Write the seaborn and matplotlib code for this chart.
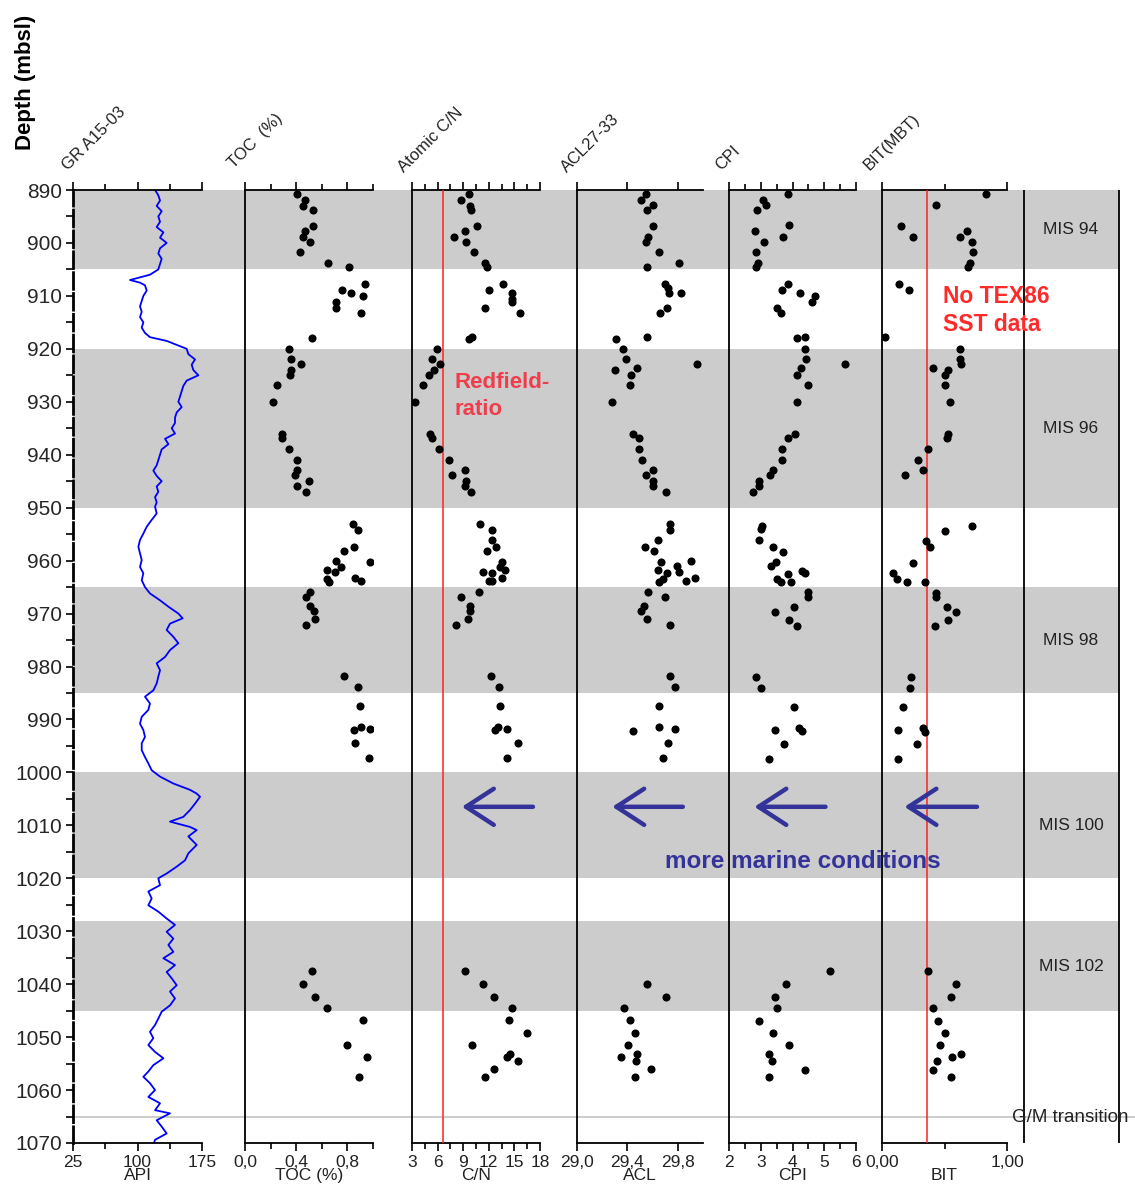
import numpy as np
import pandas as pd
import matplotlib
matplotlib.use("Agg")
import matplotlib.pyplot as plt
import seaborn as sns
from matplotlib.ticker import FixedLocator

# ---------------- DATA ----------------
GLACIAL_BANDS = [(890, 905), (920, 950), (965, 985), (1000, 1020), (1028, 1045)]
MIS_LABELS = ["MIS 94", "MIS 96", "MIS 98", "MIS 100", "MIS 102"]
MIS_DEPTHS = [897.4, 935.0, 975.0, 1010.0, 1036.6]
GM_DEPTH = 1065
REDFIELD_CN = 6.6
BIT_THRESHOLD = 0.36

GR_DEPTH = [890, 891, 892, 893, 894, 895, 896, 897, 898, 899, 900, 901, 902, 903, 904, 905,
            906, 906.5, 907, 907.5, 908, 909, 910, 911, 912, 913, 914, 915, 916, 917, 917.8,
            918.5, 919, 919.5, 920, 921, 922, 923, 924, 925, 926, 927, 928, 929, 930, 931,
            932, 933, 934, 935, 936, 937, 938, 939, 940, 941, 942, 943, 944, 945, 946, 947,
            948, 949, 949.8, 951.1, 952.3, 953.6, 954.9, 956.1, 957.4, 958.6, 959.9, 961.2,
            962.4, 963.7, 965.0, 966.2, 967.5, 968.7, 970.0, 970.9, 971.9, 973.1, 974.4,
            975.6, 976.9, 978.2, 979.4, 980.7, 981.9, 983.2, 984.5, 985.7, 987.0, 988.2,
            989.5, 990.8, 992.0, 993.3, 994.5, 995.8, 997.1, 998.3, 999.6, 1000.8, 1002.1,
            1003.3, 1004.0, 1004.6, 1005.9, 1007.1, 1008.4, 1009.3, 1010.3, 1010.9, 1012.1,
            1013.7, 1015.3, 1016.6, 1017.8, 1019.1, 1020.0, 1021.3, 1022.5, 1023.8, 1025.1,
            1026.3, 1027.6, 1028.8, 1030.1, 1031.4, 1032.6, 1033.9, 1035.1, 1036.4, 1037.7,
            1038.9, 1040.2, 1041.4, 1042.7, 1044.0, 1045.2, 1046.5, 1047.7, 1049.0, 1050.2,
            1051.5, 1052.8, 1054.0, 1055.3, 1056.5, 1057.5, 1058.7, 1060.0, 1061.3, 1062.5,
            1063.8, 1064.4, 1065.7, 1066.9, 1068.2, 1069.4, 1070.4]
GR_API = [120.4, 124.2, 126.2, 122.3, 128.1, 124.2, 126.2, 122.3, 130.1, 126.2, 133.9, 126.2,
          124.2, 128.1, 126.2, 124.2, 114.5, 102.9, 91.3, 102.9, 108.7, 110.7, 106.8, 104.9,
          102.9, 104.9, 102.9, 106.8, 104.9, 108.7, 114.5, 133.9, 141.7, 149.4, 157.2, 159.1,
          166.9, 163.0, 164.9, 170.8, 157.2, 153.3, 151.4, 149.4, 147.5, 151.4, 145.6, 143.6,
          143.6, 139.8, 143.6, 132.0, 135.9, 128.1, 126.2, 124.2, 122.3, 118.4, 122.3, 128.1,
          122.3, 124.2, 120.4, 122.3, 120.4, 122.3, 116.5, 110.7, 106.8, 102.9, 101.0, 102.9,
          104.9, 102.9, 106.8, 104.9, 108.7, 114.5, 126.2, 135.9, 147.5, 152.5, 137.8, 133.9,
          141.7, 147.5, 137.8, 132.0, 122.3, 126.2, 124.2, 122.3, 118.4, 108.7, 114.5, 112.6,
          104.9, 102.9, 106.8, 108.7, 104.9, 104.9, 108.7, 112.6, 116.5, 126.2, 141.7, 161.1,
          168.8, 172.7, 166.9, 161.1, 153.3, 137.8, 161.1, 168.8, 159.1, 168.8, 159.1, 155.3,
          145.6, 133.9, 124.2, 126.2, 112.6, 116.5, 112.6, 124.2, 133.9, 143.6, 133.9, 141.7,
          135.9, 141.7, 130.1, 143.6, 133.9, 139.8, 145.6, 137.8, 143.6, 137.8, 128.1, 124.2,
          120.4, 114.5, 118.4, 112.6, 120.4, 130.1, 118.4, 112.6, 106.8, 114.5, 120.4, 112.6,
          126.2, 120.4, 137.8, 122.3, 128.1, 133.9, 120.4, 118.4]

TOC_DEPTH = [890.8, 891.8, 893.0, 893.8, 896.8, 897.7, 898.8, 899.8, 901.7, 903.7, 904.6,
             907.8, 908.8, 909.5, 910.0, 911.1, 912.2, 913.3, 918.0, 920.0, 921.9, 922.9,
             924.0, 925.0, 926.8, 930.0, 936.0, 936.9, 938.9, 941.0, 942.8, 943.9, 944.9,
             945.9, 947.0, 953.1, 954.2, 957.4, 958.2, 960.2, 960.0, 961.2, 961.8, 962.2,
             963.5, 964.0, 963.2, 963.9, 965.9, 966.8, 968.6, 969.5, 971.1, 972.2, 981.8,
             983.9, 987.5, 992.0, 991.4, 991.8, 994.5, 997.2, 1037.6, 1039.9, 1042.4,
             1044.5, 1046.8, 1051.5, 1053.7, 1057.5]
TOC_PCT = [0.41, 0.47, 0.45, 0.53, 0.53, 0.47, 0.45, 0.51, 0.43, 0.65, 0.81, 0.94, 0.76,
           0.83, 0.92, 0.71, 0.71, 0.91, 0.52, 0.34, 0.36, 0.44, 0.36, 0.35, 0.25, 0.22,
           0.29, 0.29, 0.34, 0.41, 0.41, 0.39, 0.50, 0.41, 0.48, 0.84, 0.88, 0.85, 0.77,
           0.98, 0.71, 0.75, 0.64, 0.70, 0.64, 0.66, 0.86, 0.91, 0.51, 0.48, 0.51, 0.54,
           0.55, 0.48, 0.77, 0.88, 0.90, 0.85, 0.91, 0.98, 0.86, 0.97, 0.52, 0.45, 0.55,
           0.64, 0.92, 0.80, 0.95, 0.89]

CN_DEPTH = [890.8, 891.8, 893.0, 893.8, 896.8, 897.7, 898.8, 899.8, 901.7, 903.7, 904.6,
            908.8, 907.8, 909.5, 910.5, 911.2, 912.2, 913.3, 917.8, 918.2, 920.0, 921.9,
            922.9, 924.0, 925.0, 926.8, 930.0, 936.0, 936.8, 938.9, 941.0, 942.8, 943.9,
            944.9, 945.9, 947.0, 953.1, 954.2, 956.1, 957.4, 958.2, 960.2, 961.2, 961.8,
            962.1, 962.4, 963.2, 963.8, 963.9, 965.9, 966.8, 968.6, 969.5, 971.1, 972.2,
            981.8, 983.9, 987.5, 991.8, 991.4, 992.0, 994.5, 997.2, 1037.6, 1039.9, 1042.4,
            1044.5, 1046.8, 1049.3, 1051.5, 1053.1, 1053.7, 1054.6, 1056.1, 1057.5]
CN_RATIO = [9.68, 8.74, 9.76, 9.91, 10.58, 9.21, 7.89, 9.29, 10.27, 11.55, 11.75, 12.06,
            13.70, 14.68, 14.76, 14.76, 11.55, 15.66, 10.03, 9.72, 5.89, 5.38, 6.24, 5.54,
            5.03, 4.29, 3.35, 5.15, 5.31, 6.13, 7.37, 9.25, 7.69, 9.33, 9.25, 9.91, 10.97,
            12.41, 12.41, 12.84, 11.75, 13.55, 13.31, 13.93, 11.32, 12.41, 13.51, 12.02,
            12.41, 10.89, 8.74, 9.80, 9.80, 9.53, 8.16, 12.22, 13.16, 13.35, 14.10, 13.04,
            12.73, 15.39, 14.10, 9.21, 11.36, 12.65, 14.68, 14.33, 16.48, 10.07, 14.52,
            14.13, 15.42, 12.65, 11.55]

ACL_DEPTH = [890.8, 891.8, 892.9, 893.8, 896.8, 898.8, 899.8, 901.7, 903.7, 904.6, 907.8,
             908.6, 909.5, 909.5, 912.2, 913.3, 917.8, 918.1, 920.0, 921.9, 922.9, 924.0,
             923.6, 925.0, 926.8, 930.0, 936.0, 936.9, 938.9, 941.0, 942.8, 943.9, 944.9,
             945.9, 947.0, 953.1, 954.2, 956.1, 957.4, 958.2, 960.2, 960.1, 961.0, 962.2,
             961.8, 962.3, 963.2, 963.9, 963.5, 964.0, 965.9, 966.8, 968.6, 969.5, 971.1,
             972.2, 981.8, 983.9, 987.5, 992.1, 991.4, 991.8, 994.5, 997.2, 1039.9, 1042.4,
             1044.5, 1046.8, 1049.3, 1051.5, 1053.1, 1053.7, 1054.6, 1056.1, 1057.5]
ACL_VAL = [29.545, 29.505, 29.606, 29.558, 29.606, 29.563, 29.545, 29.653, 29.807, 29.558,
           29.700, 29.720, 29.733, 29.825, 29.714, 29.660, 29.558, 29.310, 29.363, 29.386,
           29.950, 29.300, 29.479, 29.426, 29.420, 29.275, 29.442, 29.495, 29.495, 29.516,
           29.606, 29.545, 29.606, 29.600, 29.704, 29.740, 29.738, 29.645, 29.542, 29.609,
           29.667, 29.907, 29.791, 29.807, 29.643, 29.717, 29.934, 29.868, 29.685, 29.651,
           29.566, 29.696, 29.529, 29.508, 29.558, 29.738, 29.738, 29.775, 29.653, 29.444,
           29.653, 29.775, 29.720, 29.680, 29.558, 29.704, 29.371, 29.421, 29.458, 29.405,
           29.479, 29.347, 29.468, 29.590, 29.458]

CPI_DEPTH = [890.8, 891.8, 892.9, 893.8, 896.7, 897.7, 898.8, 899.8, 901.7, 903.7, 904.6,
             907.8, 908.8, 909.5, 910.0, 911.2, 912.2, 913.3, 918.0, 917.7, 920.0, 921.9,
             922.9, 923.7, 925.0, 926.8, 930.0, 936.0, 936.9, 938.9, 941.0, 942.8, 943.9,
             944.9, 945.9, 947.0, 953.4, 954.1, 956.2, 957.5, 958.3, 960.3, 961.0, 962.0,
             962.3, 962.5, 963.4, 964.0, 964.0, 966.0, 966.9, 968.7, 969.7, 971.2, 972.3,
             981.9, 984.0, 987.6, 991.9, 991.6, 992.2, 994.7, 997.5, 1037.6, 1040.0, 1042.4,
             1044.5, 1046.9, 1049.3, 1051.5, 1053.1, 1054.6, 1056.2, 1057.5]
CPI_VAL = [3.86, 3.08, 3.17, 2.87, 3.88, 2.81, 3.70, 3.11, 2.85, 2.92, 2.85, 3.86, 3.68,
           4.25, 4.70, 4.60, 3.52, 3.63, 4.14, 4.40, 4.38, 4.42, 5.65, 4.26, 4.13, 4.48,
           4.14, 4.09, 3.86, 3.68, 3.68, 3.38, 3.29, 2.94, 2.94, 2.76, 3.03, 3.00, 2.95,
           3.40, 3.71, 3.48, 3.31, 4.30, 4.40, 3.85, 3.52, 3.65, 3.96, 4.48, 4.48, 4.06,
           3.45, 3.88, 4.13, 2.85, 3.02, 4.06, 3.45, 4.21, 4.29, 3.74, 3.25, 5.18, 3.80,
           3.46, 3.51, 2.95, 3.40, 3.88, 3.27, 3.35, 4.40, 3.25]

BIT_DEPTH = [890.8, 892.9, 896.8, 898.8, 897.7, 898.8, 899.8, 901.7, 903.7, 904.6, 907.8,
             908.8, 917.8, 920.0, 921.9, 922.9, 923.6, 924.0, 925.0, 926.8, 930.0, 936.0,
             936.8, 938.9, 941.0, 942.8, 943.9, 953.4, 954.4, 956.3, 957.5, 960.4, 962.3,
             963.4, 964.0, 964.0, 966.1, 966.9, 968.7, 969.7, 971.2, 972.3, 981.9, 984.0,
             987.6, 991.9, 991.6, 992.4, 994.7, 997.5, 1037.6, 1040.0, 1042.4, 1044.5,
             1046.9, 1049.3, 1051.5, 1053.8, 1053.1, 1054.6, 1056.2, 1057.5]
BIT_VAL = [0.83, 0.43, 0.15, 0.25, 0.68, 0.62, 0.72, 0.73, 0.70, 0.69, 0.136, 0.216, 0.02,
           0.62, 0.62, 0.63, 0.41, 0.53, 0.50, 0.50, 0.54, 0.53, 0.52, 0.37, 0.29, 0.33,
           0.18, 0.72, 0.50, 0.35, 0.38, 0.25, 0.086, 0.12, 0.20, 0.34, 0.43, 0.43, 0.52,
           0.59, 0.53, 0.42, 0.23, 0.22, 0.17, 0.13, 0.33, 0.34, 0.28, 0.13, 0.37, 0.59,
           0.55, 0.41, 0.45, 0.50, 0.46, 0.56, 0.63, 0.44, 0.41, 0.55]

PANEL_TITLES = ["GR A15-03", "TOC  (%)", "Atomic C/N", "ACL27-33", "CPI", "BIT(MBT)"]
AXIS_LABELS = ["API", "TOC (%)", "C/N", "ACL", "CPI", "BIT"]
X_LIMITS = [(25, 175), (0, 1.0), (3, 18), (29.0, 30.0), (2, 6), (0, 1.0)]
MAJOR_TICKS = [[25, 100, 175], [0.0, 0.4, 0.8], [3, 6, 9, 12, 15, 18],
               [29.0, 29.4, 29.8], [2, 3, 4, 5, 6], [0.0, 1.0]]
MAJOR_LABELS = [["25", "100", "175"], ["0,0", "0,4", "0,8"],
                ["3", "6", "9", "12", "15", "18"], ["29,0", "29,4", "29,8"],
                ["2", "3", "4", "5", "6"], ["0,00", "1,00"]]
MINOR_TICKS = [[62.5, 137.5], [0.2, 0.6, 1.0], [4.5, 7.5, 10.5, 13.5, 16.5],
               [], [2.5, 3.5, 4.5, 5.5], [0.5]]

# ---------------- STYLE / LAYOUT ----------------
sns.set_theme(style="white")
plt.rcParams['font.family'] = ['Liberation Sans', 'DejaVu Sans']

W, H = 1135, 1191
fig = plt.figure(figsize=(W / 100, H / 100), dpi=100)


def fx(px):
    return px / W


def fy(py):
    return 1 - py / H


Y_TOP, Y_BOT = 190, 1143
D_TOP, D_BOT = 890, 1070
BAND_COLOR = '#cccccc'
MARK = dict(color='black', s=34, marker='o', linewidth=0, zorder=4)

# background axes (bands, G/M line, right column lines)
bg = fig.add_axes([fx(73), fy(Y_BOT), fx(1135) - fx(73), fy(Y_TOP) - fy(Y_BOT)])
bg.set_xlim(0, 1)
bg.set_ylim(D_BOT, D_TOP)
bg.axis('off')
band_xmax = (1119 - 73) / (1135 - 73)
for top, bot in GLACIAL_BANDS:
    bg.axhspan(top, bot, xmin=0, xmax=band_xmax, color=BAND_COLOR, lw=0, zorder=0)
bg.axhline(GM_DEPTH, color='#c4c4c4', lw=1.2, zorder=1)
bg.axvline((1024 - 73) / (1135 - 73), color='black', lw=1.3, zorder=2)
bg.axvline(band_xmax, color='black', lw=1.3, zorder=2)

PANEL_PX = [(73, 202), (245, 373), (412, 540), (577, 703), (729, 856), (882, 1007)]
TITLE_ANCHORS = [(68, 171), (234, 169), (404, 173), (567, 173), (721, 171), (870, 171)]

axes = []
for i, (x0, x1) in enumerate(PANEL_PX):
    ax = fig.add_axes([fx(x0), fy(Y_BOT), fx(x1) - fx(x0), fy(Y_TOP) - fy(Y_BOT)])
    ax.patch.set_alpha(0)
    axes.append(ax)

ax_gr, ax_toc, ax_cn, ax_acl, ax_cpi, ax_bit = axes

sns.lineplot(x=GR_API, y=GR_DEPTH, orient='y', sort=False, estimator=None,
             color='#0000ff', lw=1.3, ax=ax_gr)
sns.scatterplot(x=TOC_PCT, y=TOC_DEPTH, ax=ax_toc, **MARK)
sns.scatterplot(x=CN_RATIO, y=CN_DEPTH, ax=ax_cn, **MARK)
sns.scatterplot(x=ACL_VAL, y=ACL_DEPTH, ax=ax_acl, **MARK)
sns.scatterplot(x=CPI_VAL, y=CPI_DEPTH, ax=ax_cpi, **MARK)
sns.scatterplot(x=BIT_VAL, y=BIT_DEPTH, ax=ax_bit, **MARK)

ax_cn.axvline(REDFIELD_CN, color='#ff2020', lw=1.1, zorder=3)
ax_bit.axvline(BIT_THRESHOLD, color='#ff2020', lw=1.1, zorder=3)

for i, ax in enumerate(axes):
    ax.set_xlim(*X_LIMITS[i])
    ax.set_ylim(D_BOT, D_TOP)
    ax.spines['right'].set_visible(False)
    for s in ['left', 'top', 'bottom']:
        ax.spines[s].set_visible(True)
        ax.spines[s].set_color('black')
        ax.spines[s].set_linewidth(1.3)
    ax.xaxis.set_major_locator(FixedLocator(MAJOR_TICKS[i]))
    ax.set_xticklabels(MAJOR_LABELS[i])
    ax.xaxis.set_minor_locator(FixedLocator(MINOR_TICKS[i]))
    ax.tick_params(axis='x', which='both', direction='out', top=True, bottom=True,
                   labeltop=False, labelbottom=True, width=1.2, color='black',
                   labelsize=12.5, pad=3, labelcolor='#222222')
    ax.tick_params(axis='x', which='major', length=5.5)
    ax.tick_params(axis='x', which='minor', length=4)
    ax.set_xlabel(AXIS_LABELS[i], fontsize=12.5, labelpad=-1, color='#222222')
    ax.set_ylabel('')
    ax.grid(False)
    if i > 0:
        ax.tick_params(axis='y', left=False, labelleft=False)
    tx, ty = TITLE_ANCHORS[i]
    fig.text(fx(tx), fy(ty), PANEL_TITLES[i], rotation=45, rotation_mode='anchor',
             ha='left', va='baseline', fontsize=12, color='#222222')

# depth axis on the GR panel
ax_gr.yaxis.set_major_locator(FixedLocator(list(range(890, 1071, 10))))
ax_gr.yaxis.set_minor_locator(FixedLocator(list(range(895, 1070, 10))))
ax_gr.tick_params(axis='y', which='both', direction='out', left=True, length=5,
                  width=1.2, color='black', labelsize=15, pad=3)
ax_gr.spines['left'].set_linewidth(2.0)
ax_gr.spines['left'].set_linestyle((0, (6, 1.5)))

fig.text(fx(25), fy(82), "Depth (mbsl)", rotation=90, ha='center', va='center',
         fontsize=16, fontweight='bold', color='black')

# arrows "more marine conditions"
ARROW_COLOR = '#333399'
ARROW_DEPTH = 1006.5
for ax, (xa, xb) in zip([ax_cn, ax_acl, ax_cpi, ax_bit],
                        [(0.945, 0.39), (0.84, 0.28), (0.76, 0.20), (0.76, 0.18)]):
    ax.annotate('', xy=(xb, ARROW_DEPTH), xytext=(xa, ARROW_DEPTH),
                xycoords=('axes fraction', 'data'), textcoords=('axes fraction', 'data'),
                arrowprops=dict(arrowstyle='->, head_length=1.0, head_width=0.65',
                                mutation_scale=20, color=ARROW_COLOR, lw=3.2,
                                shrinkA=0, shrinkB=0))

fig.text(fx(665), fy(861), "more marine conditions", ha='left', va='center',
         fontsize=17.5, fontweight='bold', color=ARROW_COLOR)

fig.text(fx(455), fy(372), "Redfield-\nratio", ha='left', va='top', fontsize=16,
         color='#f03c4b', linespacing=1.35, fontweight='bold')
fig.text(fx(943), fy(285), "No TEX86\nSST data", ha='left', va='top', fontsize=16.5,
         color='#ff2a2a', linespacing=1.3, fontweight='bold')

for lab, d in zip(MIS_LABELS, MIS_DEPTHS):
    fig.text(fx(1071), fy(Y_TOP + (d - D_TOP) * (Y_BOT - Y_TOP) / (D_BOT - D_TOP)), lab,
             ha='center', va='center', fontsize=12.5, color='#222222')

fig.text(fx(1070), fy(1117), "G/M transition", ha='center', va='center',
         fontsize=13.5, color='#222222')

fig.savefig("out.png", dpi=100)
